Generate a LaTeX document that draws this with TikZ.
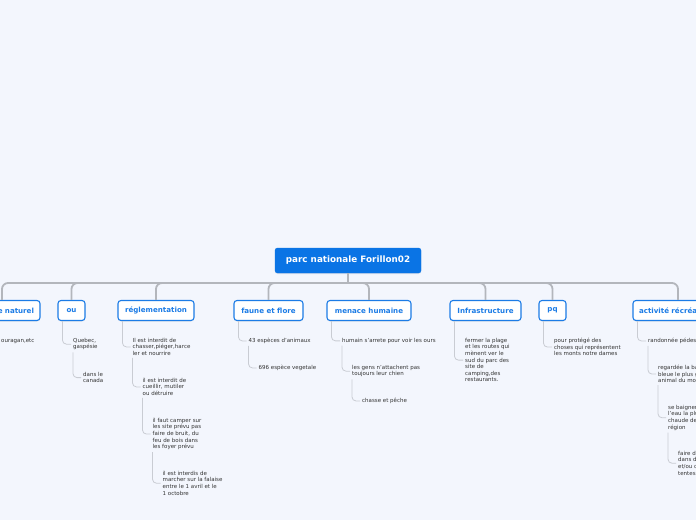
\documentclass[tikz,border=0pt]{standalone}
\usepackage{fontspec}
\setmainfont{DejaVu Sans}
\usetikzlibrary{shadows}
\definecolor{bg}{HTML}{F3F6FD}
\definecolor{mainblue}{HTML}{0A74E5}
\definecolor{edgeblue}{HTML}{1C7CE6}
\definecolor{busgray}{HTML}{B3B6BC}
\definecolor{leafgray}{HTML}{C9CCD3}
\definecolor{leaftext}{HTML}{333333}
\begin{document}
\begin{tikzpicture}[x=1pt,y=-1pt,
 rootbox/.style={draw=mainblue, fill=mainblue, rounded corners=2.5pt, minimum height=25pt, minimum width=146pt, text=white, font=\fontsize{8.8}{10}\selectfont\bfseries, drop shadow={shadow xshift=0pt, shadow yshift=-1pt, opacity=0.15}},
 cbox/.style={draw=edgeblue, line width=1.1pt, fill=white, rounded corners=3pt, minimum height=20pt, inner xsep=5pt, text=edgeblue, font=\fontsize{7.1}{8}\selectfont\bfseries, drop shadow={shadow xshift=0pt, shadow yshift=-1pt, opacity=0.15}},
 leaf/.style={anchor=north west, inner sep=0pt, align=left, text=leaftext, font=\fontsize{5.5}{6.6}\selectfont},
 busline/.style={draw=busgray, line width=1.8pt, rounded corners=6pt},
 leafline/.style={draw=leafgray, line width=0.8pt, rounded corners=4pt}
]
\fill[bg] (0,0) rectangle (696,520);
\useasboundingbox (0,0) rectangle (696,520);

% root
\node[rootbox] (root) at (348,260.5) {parc nationale Forillon02};
\coordinate (hub) at (348,283);

% main branches
\node[cbox, text width=64pt, align=right, inner xsep=6pt] (nat) at (2,310.5) {e naturel};
\node[cbox, minimum width=27pt] (ou) at (71.5,310.5) {ou};
\node[cbox, minimum width=76pt] (regl) at (156,310.5) {réglementation};
\node[cbox, minimum width=69pt] (faune) at (268.5,310.5) {faune et flore};
\node[cbox, minimum width=84pt] (menace) at (369,310.5) {menace humaine};
\node[cbox, minimum width=71pt] (infra) at (485.5,310.5) {Infrastructure};
\node[cbox, minimum width=27pt] (pq) at (552.5,310.5) {pq};
\node[cbox, text width=78pt, align=left, inner xsep=6pt] (act) at (678,310.5) {activité récréa};

\draw[busline] (root.south) -- (hub);
\foreach \c in {nat,ou,regl,faune,menace,infra,pq,act}
  \draw[busline] (hub) -| (\c.north);

% leaves
\node[leaf] (natA) at (1,338) {ouragan,etc};

\node[leaf] (ouA) at (73,338) {Quebec,\\gaspésie};
\node[leaf] (ouB) at (83,372) {dans le\\canada};

\node[leaf] (reA) at (132.5,338) {Il est interdit de\\chasser,piéger,harce\\ler et nourrire};
\node[leaf] (reB) at (142.5,378) {il est interdit de\\cueillir, mutiler\\ou détruire};
\node[leaf] (reC) at (152.5,418) {il faut camper sur\\les site prévu pas\\faire de bruit, du\\feu de bois dans\\les foyer prévu};
\node[leaf] (reD) at (162.5,471) {il est interdis de\\marcher sur la falaise\\entre le 1 avril et le\\1 octobre};

\node[leaf] (faA) at (248.5,338) {43 espèces d'animaux};
\node[leaf] (faB) at (258.5,365) {696 espèce vegetale};

\node[leaf] (meA) at (342,338) {humain s'arrete pour voir les ours};
\node[leaf] (meB) at (352,365) {les gens n'attachent pas\\toujours leur chien};
\node[leaf] (meC) at (362,398) {chasse et pêche};

\node[leaf] (inA) at (465,338) {fermer la plage\\et les routes qui\\mènent ver le\\sud du parc des\\site de\\camping,des\\restaurants.};

\node[leaf] (pqA) at (554,338) {pour protégé des\\choses qui représentent\\les monts notre dames};

\node[leaf] (acA) at (648,338) {randonnée pédest};
\node[leaf] (acB) at (658,365) {regardée la ba\\bleue le plus g\\animal du mo};
\node[leaf] (acC) at (668,405) {se baigner\\l'eau la plu\\chaude de\\région};
\node[leaf] (acD) at (678,451) {faire d\\dans d\\et/ou c\\tentes.};

% leaf connectors
\draw[leafline] ([xshift=5pt]nat.south west) |- ([xshift=-2pt]natA.west);
\draw[leafline] ([xshift=5pt]ou.south west) |- ([xshift=-2pt]ouA.west);
\draw[leafline] ([yshift=-2pt]ouA.south west) |- ([xshift=-2pt]ouB.west);
\draw[leafline] ([xshift=5pt]regl.south west) |- ([xshift=-2pt]reA.west);
\draw[leafline] ([yshift=-2pt]reA.south west) |- ([xshift=-2pt]reB.west);
\draw[leafline] ([yshift=-2pt]reB.south west) |- ([xshift=-2pt]reC.west);
\draw[leafline] ([yshift=-2pt]reC.south west) |- ([xshift=-2pt]reD.west);
\draw[leafline] ([xshift=5pt]faune.south west) |- ([xshift=-2pt]faA.west);
\draw[leafline] ([yshift=-2pt]faA.south west) |- ([xshift=-2pt]faB.west);
\draw[leafline] ([xshift=5pt]menace.south west) |- ([xshift=-2pt]meA.west);
\draw[leafline] ([yshift=-2pt]meA.south west) |- ([xshift=-2pt]meB.west);
\draw[leafline] ([yshift=-2pt]meB.south west) |- ([xshift=-2pt]meC.west);
\draw[leafline] ([xshift=5pt]infra.south west) |- ([xshift=-2pt]inA.west);
\draw[leafline] ([xshift=5pt]pq.south west) |- ([xshift=-2pt]pqA.west);
\draw[leafline] ([xshift=5pt]act.south west) |- ([xshift=-2pt]acA.west);
\draw[leafline] ([yshift=-2pt]acA.south west) |- ([xshift=-2pt]acB.west);
\draw[leafline] ([yshift=-2pt]acB.south west) |- ([xshift=-2pt]acC.west);
\draw[leafline] ([yshift=-2pt]acC.south west) |- ([xshift=-2pt]acD.west);
\end{tikzpicture}
\end{document}
